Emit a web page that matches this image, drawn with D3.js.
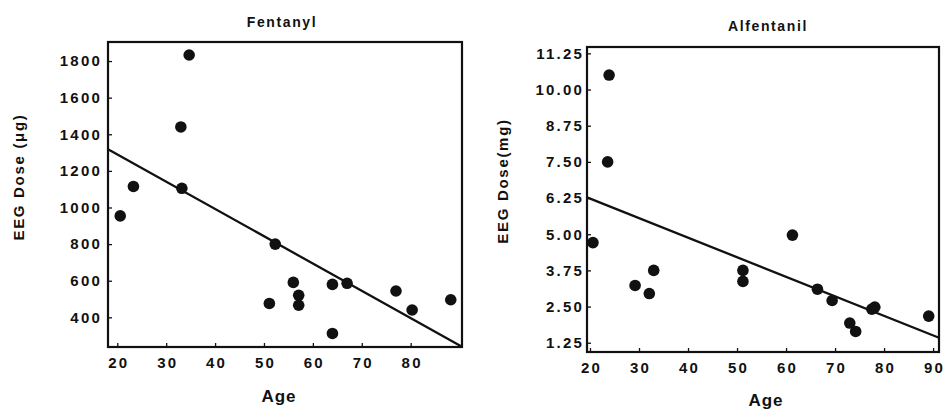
<!DOCTYPE html>
<html>
<head>
<meta charset="utf-8">
<script src="https://cdn.jsdelivr.net/npm/d3@7"></script>
<style>
  body { margin: 0; background: #fff; }
  svg text { font-family: "Liberation Sans", Arial, sans-serif; font-weight: bold; fill: #111; }
</style>
</head>
<body>
<svg id="chart" width="943" height="410"></svg>
<script>
// Fentanyl panel
const fentAge  = [34.7, 33.0, 23.3, 33.2, 20.6, 52.3, 56.0, 57.1, 57.1, 51.1, 64.0, 67.0, 64.0, 77.0, 80.3, 88.2];
const fentDose = [1833, 1440, 1115, 1105, 954, 800, 591, 520, 466, 476, 580, 586, 312, 544, 440, 496];
const fentFit  = [1588, -14.9];   // intercept, slope
const fentYTicks = [400, 600, 800, 1000, 1200, 1400, 1600, 1800];

// Alfentanil panel
const alfAge  = [23.9, 23.6, 20.6, 29.2, 32.1, 33.0, 51.2, 51.2, 61.3, 66.4, 69.4, 73.0, 74.2, 77.5, 78.1, 89.1];
const alfDose = [10.50, 7.50, 4.71, 3.23, 2.95, 3.75, 3.75, 3.37, 4.97, 3.10, 2.71, 1.93, 1.64, 2.41, 2.48, 2.17];
const alfFit  = [7.58, -0.0675];
const alfYTicks = [1.25, 2.50, 3.75, 5.00, 6.25, 7.50, 8.75, 10.00, 11.25];

const fentXTicks = [20, 30, 40, 50, 60, 70, 80];
const alfXTicks  = [20, 30, 40, 50, 60, 70, 80, 90];

const svg = d3.select("#chart");

function drawPanel(p) {
  const x = d3.scaleLinear().domain(p.xDomain).range([p.left, p.right]);
  const y = d3.scaleLinear().domain(p.yDomain).range([p.bottom, p.top]);
  const g = svg.append("g");

  // line of fit
  const fx = p.xDomain;
  const fitY = a => p.fit[0] + p.fit[1] * a;
  g.append("line")
    .attr("x1", x(fx[0])).attr("y1", y(fitY(fx[0])))
    .attr("x2", x(fx[1])).attr("y2", y(fitY(fx[1])))
    .attr("stroke", "#111").attr("stroke-width", 2.3);

  // points
  g.selectAll("circle")
    .data(p.age.map((a, i) => [a, p.dose[i]]))
    .enter()
    .append("circle")
    .attr("cx", d => x(d[0]))
    .attr("cy", d => y(d[1]))
    .attr("r", 5.8)
    .attr("fill", "#111");

  // axes, ticks pointing inward
  const xAxis = g.append("g")
    .attr("transform", "translate(0," + p.bottom + ")")
    .call(d3.axisBottom(x).tickValues(p.xTicks).tickSize(-4).tickPadding(10));
  const yAxis = g.append("g")
    .attr("transform", "translate(" + p.left + ",0)")
    .call(d3.axisLeft(y).tickValues(p.yTicks).tickFormat(p.yFormat).tickSize(-4).tickPadding(p.yPad));
  [xAxis, yAxis].forEach(a => {
    a.select(".domain").remove();
    a.selectAll(".tick line").attr("stroke", "#111").attr("stroke-width", 1.3);
    a.selectAll(".tick text").style("font-size", "15px").style("letter-spacing", "2.2px").attr("fill", "#111");
  });
  xAxis.selectAll(".tick text").attr("dy", "0.75em").attr("dx", "1px");

  // frame
  g.append("rect")
    .attr("x", p.left).attr("y", p.top)
    .attr("width", p.right - p.left).attr("height", p.bottom - p.top)
    .attr("fill", "none").attr("stroke", "#111").attr("stroke-width", 2.2);

  // title and labels
  g.append("text")
    .attr("x", p.titleX).attr("y", p.titleY)
    .attr("text-anchor", "middle")
    .style("font-size", "14px").style("letter-spacing", "1.6px")
    .text(p.title);
  g.append("text")
    .attr("x", p.ageX).attr("y", p.ageY)
    .attr("text-anchor", "middle")
    .style("font-size", "17px").style("letter-spacing", "1px")
    .text("Age");
  g.append("text")
    .attr("transform", "translate(" + p.yLabX + "," + p.yLabY + ") rotate(-90)")
    .attr("text-anchor", "middle")
    .style("font-size", "15px").style("letter-spacing", "1.7px")
    .text(p.yLabel);
}

drawPanel({
  age: fentAge, dose: fentDose, fit: fentFit,
  xDomain: [18.1, 90.5], yDomain: [238, 1904],
  left: 108, right: 462, top: 42, bottom: 347,
  xTicks: fentXTicks, yTicks: fentYTicks, yFormat: d3.format("d"), yPad: 6,
  title: "Fentanyl", titleX: 282, titleY: 27,
  ageX: 279, ageY: 402,
  yLabel: "EEG Dose (\u03bcg)", yLabX: 24, yLabY: 177
});

drawPanel({
  age: alfAge, dose: alfDose, fit: alfFit,
  xDomain: [19.39, 91.2], yDomain: [0.93, 11.47],
  left: 587, right: 939, top: 47, bottom: 352,
  xTicks: alfXTicks, yTicks: alfYTicks, yFormat: d3.format(".2f"), yPad: 3,
  title: "Alfentanil", titleX: 768, titleY: 31,
  ageX: 766, ageY: 406,
  yLabel: "EEG Dose(mg)", yLabX: 508, yLabY: 181
});
</script>
</body>
</html>
